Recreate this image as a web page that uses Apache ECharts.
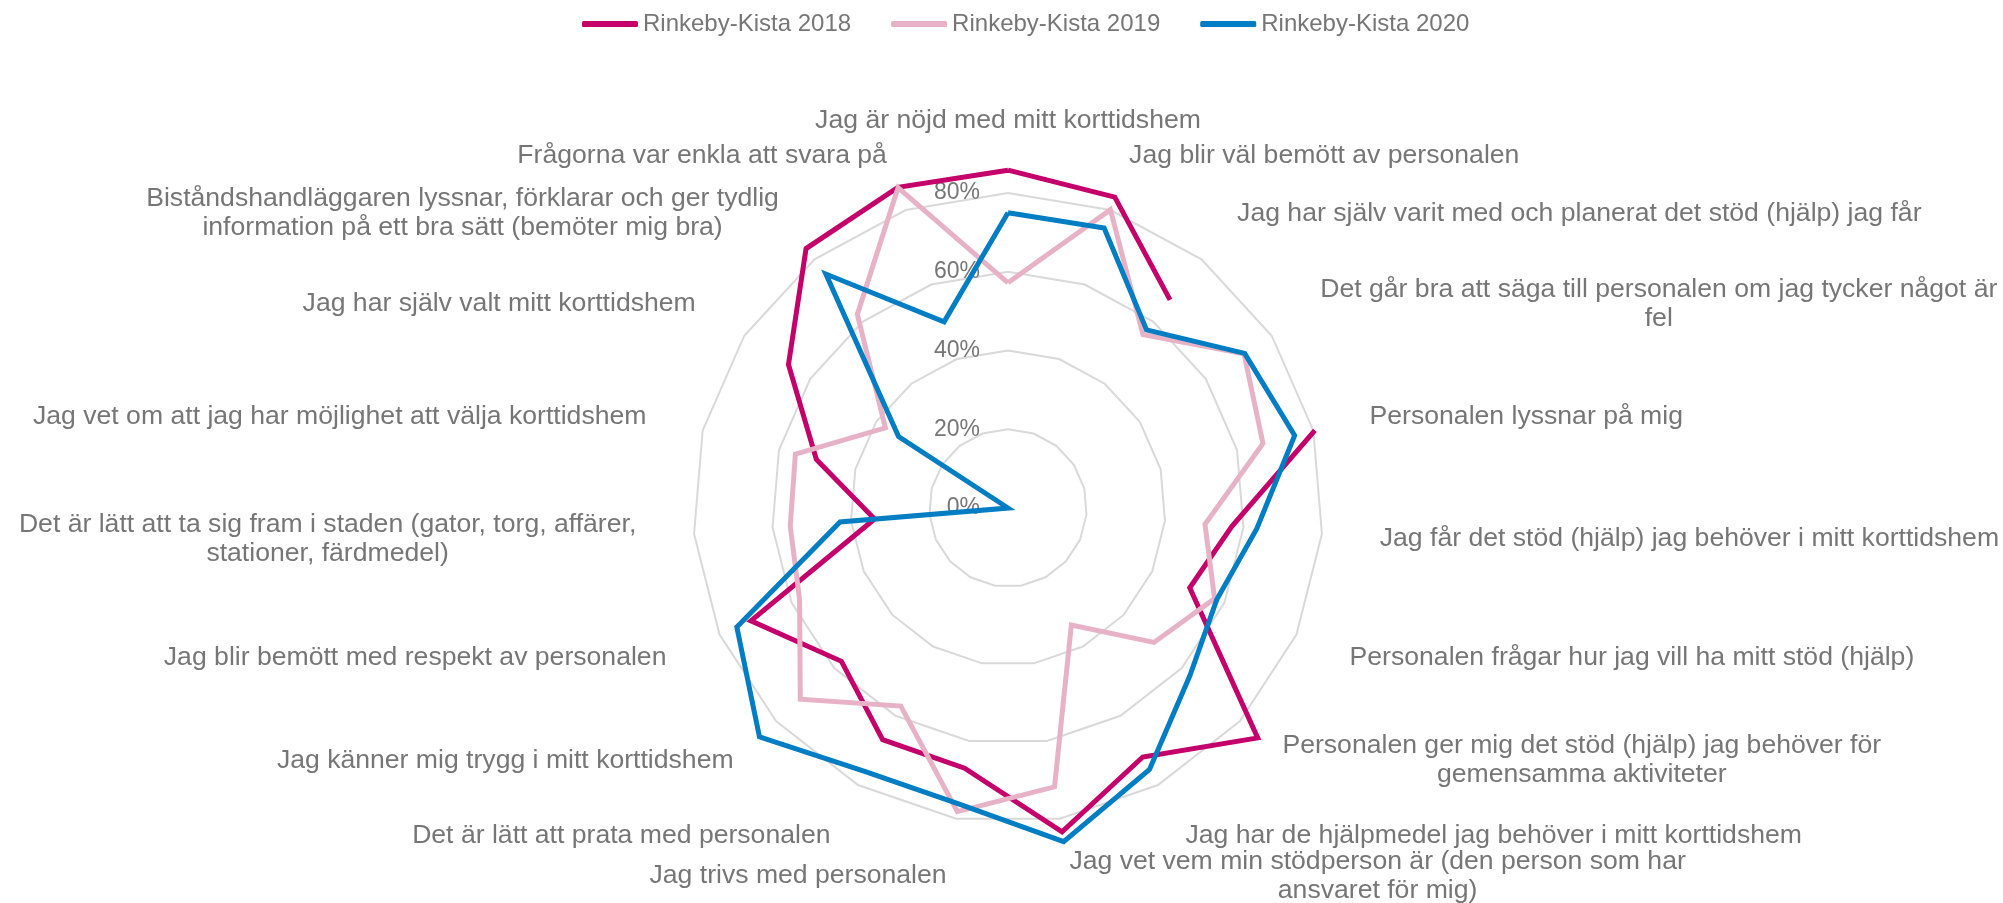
<!DOCTYPE html>
<html>
<head>
<meta charset="utf-8">
<title>Rinkeby-Kista korttidshem</title>
<script src="https://cdn.jsdelivr.net/npm/echarts@6/dist/echarts.min.js"></script>
<style>
  html, body { margin: 0; padding: 0; background: #ffffff; }
  #chart { width: 2003px; height: 903px; }
</style>
</head>
<body>
<div id="chart"></div>
<script>
// questions, clockwise from the top
var categories = [
    "Jag är nöjd med mitt korttidshem",
    "Jag blir väl bemött av personalen",
    "Jag har själv varit med och planerat det stöd (hjälp) jag får",
    "Det går bra att säga till personalen om jag tycker något är\nfel",
    "Personalen lyssnar på mig",
    "Jag får det stöd (hjälp) jag behöver i mitt korttidshem",
    "Personalen frågar hur jag vill ha mitt stöd (hjälp)",
    "Personalen ger mig det stöd (hjälp) jag behöver för\ngemensamma aktiviteter",
    "Jag har de hjälpmedel jag behöver i mitt korttidshem",
    "Jag vet vem min stödperson är (den person som har\nansvaret för mig)",
    "Jag trivs med personalen",
    "Det är lätt att prata med personalen",
    "Jag känner mig trygg i mitt korttidshem",
    "Jag blir bemött med respekt av personalen",
    "Det är lätt att ta sig fram i staden (gator, torg, affärer,\nstationer, färdmedel)",
    "Jag vet om att jag har möjlighet att välja korttidshem",
    "Jag har själv valt mitt korttidshem",
    "Biståndshandläggaren lyssnar, förklarar och ger tydlig\ninformation på ett bra sätt (bemöter mig bra)",
    "Frågorna var enkla att svara på"
];

// percent, null = no answer
var values2018 = [85.8, 83.5, 67.0, null, 80.4, 57.0, 50.4, 86.2, 71.9, 83.4, 67.0, 66.9, 57.5, 71.3, 34.0, 50.2, 66.6, 83.5, 86.1];
var values2019 = [57.2, 80.1, 55.8, 71.6, 66.8, 50.2, 57.3, 50.4, 33.8, 71.8, 78.2, 57.2, 71.7, 57.8, 55.5, 55.7, 37.2, 62.3, 86.0];
var values2020 = [75.0, 75.2, 57.3, 71.8, 75.1, 63.4, 57.9, 62.8, 75.5, 85.9, 76.2, 76.1, 85.8, 75.2, 42.8, 0, 33.2, 75.3, 50.0];

var seriesNames = ["Rinkeby-Kista 2018", "Rinkeby-Kista 2019", "Rinkeby-Kista 2020"];
var seriesColors = ["#c4006a", "#e7b2c5", "#007dc3"];

var axisMax = 80;     // outer grid ring
var tickStep = 20;
var lineMax = 100;    // polar scale for the lines, so values over 80% are not cut off

var textColor = "#767676";
var fontFamily = "'Liberation Sans', Arial, sans-serif";
var center = [1008, 508];
var radius = 315;

// echarts radar goes counter-clockwise, so flip the order after the first one
function radarIndicators() {
    var order = [0];
    for (var i = categories.length - 1; i >= 1; i--) {
        order.push(i);
    }
    return order.map(function (k) {
        var ind = { name: categories[k], min: 0, max: axisMax };
        if (k !== 0) {
            ind.axisLabel = { show: false };
        }
        return ind;
    });
}

// [radius, angle] pairs for the polar line, closed back to the first axis
function toPolar(values) {
    var pts = [];
    for (var i = 0; i < values.length; i++) {
        pts.push([values[i] == null ? "-" : values[i], i]);
    }
    pts.push([values[0], values.length]);
    return pts;
}

function makeSeries(index, values) {
    return {
        name: seriesNames[index],
        type: "line",
        coordinateSystem: "polar",
        data: toPolar(values),
        symbol: "none",
        clip: false,
        connectNulls: false,
        color: seriesColors[index],
        lineStyle: { width: 5, color: seriesColors[index], join: "miter", miterLimit: 6 },
        z: 10 + index
    };
}

var chart = echarts.init(document.getElementById("chart"));

var option = {
    animation: false,
    backgroundColor: "#ffffff",
    textStyle: { fontFamily: fontFamily },
    legend: {
        data: seriesNames,
        left: 577,
        top: 7,
        icon: "roundRect",
        itemWidth: 56,
        itemHeight: 6,
        itemGap: 40,
        textStyle: { color: textColor, fontSize: 24, fontFamily: fontFamily }
    },
    radar: {
        center: center,
        radius: radius,
        startAngle: 90,
        splitNumber: axisMax / tickStep,
        shape: "polygon",
        indicator: radarIndicators(),
        nameGap: 58,
        axisName: {
            color: textColor,
            fontSize: 26.6,
            fontFamily: fontFamily,
            lineHeight: 29,
            formatter: function (name) {
                return name.split("\n").map(function (line) {
                    return "{c|" + line + "}";
                }).join("\n");
            },
            rich: {
                c: { align: "center", color: textColor, fontSize: 26.6, lineHeight: 29, fontFamily: fontFamily }
            }
        },
        axisLine: { show: false },
        axisTick: { show: false },
        axisLabel: {
            show: true,
            color: textColor,
            fontSize: 23,
            fontFamily: fontFamily,
            margin: 28,
            padding: [8, 0, 0, 0],
            formatter: "{value}%"
        },
        splitLine: { lineStyle: { color: "#d9d9d9", width: 2 } },
        splitArea: { show: false }
    },
    polar: { center: center, radius: radius * lineMax / axisMax },
    angleAxis: {
        type: "value",
        min: 0,
        max: categories.length,
        startAngle: 90,
        clockwise: true,
        show: false
    },
    radiusAxis: {
        type: "value",
        min: 0,
        max: lineMax,
        show: false
    },
    series: [
        makeSeries(0, values2018),
        makeSeries(1, values2019),
        makeSeries(2, values2020)
    ]
};

chart.setOption(option);
</script>
</body>
</html>
